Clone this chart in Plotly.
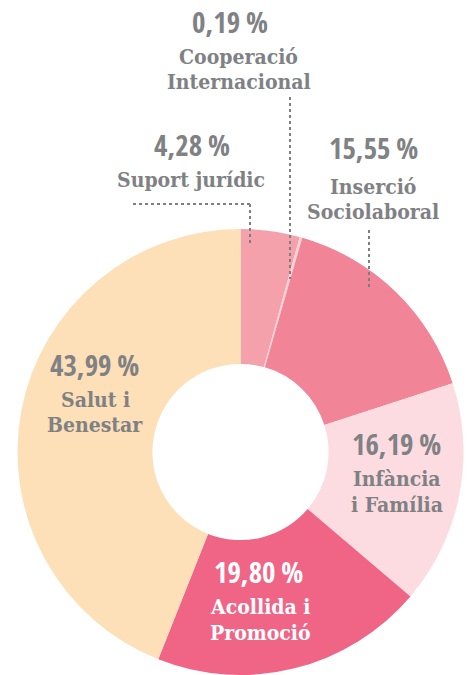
import plotly.graph_objects as go

categories = ["Suport jurídic", "Cooperació Internacional", "Inserció Sociolaboral",
              "Infància i Família", "Acollida i Promoció", "Salut i Benestar"]
values = [4.28, 0.19, 15.55, 16.19, 19.80, 43.99]
pct_labels = ["4,28\u2009%", "0,19\u2009%", "15,55\u2009%", "16,19\u2009%", "19,80\u2009%", "43,99\u2009%"]
name_labels = [["Suport jurídic"], ["Cooperació", "Internacional"], ["Inserció", "Sociolaboral"],
               ["Infància", "i Família"], ["Acollida i", "Promoció"], ["Salut i", "Benestar"]]

colors = ["#F4A1AC", "#F9D0D4", "#F18497", "#FCDCE0", "#F06486", "#FDDFB8"]
text_colors = ["#808184", "#808184", "#808184", "#808184", "#FFFFFF", "#808184"]
# label placement in pixels: percentage (x center, cap top), name (x center, first-line cap top)
pct_pos = [(192, 136), (230, 13), (373, 139), (396, 435), (258, 563), (94, 357)]
name_pos = [(191, 170), (239, 47), (373, 177), (397, 469), (260, 597), (95, 390)]
LINE_STEP = 25.5

W, H = 469, 675
fig = go.Figure()
fig.add_trace(go.Pie(
    labels=categories, values=values, sort=False, direction="clockwise", rotation=0,
    hole=0.395, textinfo="none", hoverinfo="label+percent",
    marker=dict(colors=colors, line=dict(width=0)),
    domain=dict(x=[16.5 / W, 464.5 / W], y=[0, (H - 229) / H]),
    showlegend=False,
))

pct_font = "Open Sans Condensed"
name_font = "DejaVu Serif Condensed, Liberation Serif, serif"
PCT_OFF = 13.5
NAME_OFF = 5
for (px, py), (nx, ny), p, lines, c in zip(pct_pos, name_pos, pct_labels, name_labels, text_colors):
    fig.add_annotation(x=px / W, y=1 - (py - PCT_OFF) / H, xref="paper", yref="paper",
                       xanchor="center", yanchor="top", showarrow=False,
                       text=p, font=dict(family=pct_font, size=29, color=c, weight="bold"))
    for i, line in enumerate(lines):
        top = ny + i * LINE_STEP - NAME_OFF
        fig.add_annotation(x=nx / W, y=1 - top / H, xref="paper", yref="paper",
                           xanchor="center", yanchor="top", showarrow=False,
                           text="<b>" + line + "</b>",
                           font=dict(family=name_font, size=21, color=c))

dot = dict(color="#7d7e82", width=2, dash="dot")
leaders = [
    [(133, 204), (250, 204), (250, 246)],
    [(290, 97), (290, 279)],
    [(369, 230), (369, 287)],
]
for pts in leaders:
    for (x0, y0), (x1, y1) in zip(pts[:-1], pts[1:]):
        fig.add_shape(type="line", xref="paper", yref="paper",
                      x0=x0 / W, y0=1 - y0 / H, x1=x1 / W, y1=1 - y1 / H, line=dot)

fig.update_layout(width=W, height=H, margin=dict(l=0, r=0, t=0, b=0),
                  paper_bgcolor="white", plot_bgcolor="white")
fig.write_html("out.html", config={"displayModeBar": False},
               post_script="document.body.style.margin='0px';")
